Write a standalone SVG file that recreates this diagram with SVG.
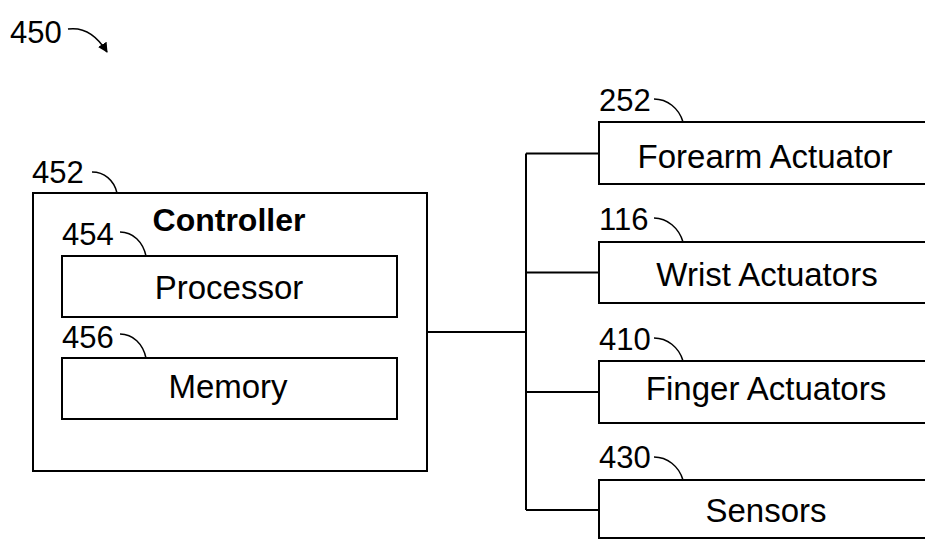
<svg xmlns="http://www.w3.org/2000/svg" width="925" height="540" viewBox="0 0 925 540">
<defs>
<style>
.box{fill:#fff;stroke:#000;stroke-width:2}
.wire{fill:none;stroke:#000;stroke-width:2}
.lead{fill:none;stroke:#000;stroke-width:1.5}
.t{font-family:"Liberation Sans",Arial,sans-serif;font-size:33px;fill:#000;text-anchor:middle}
.n{font-family:"Liberation Sans",Arial,sans-serif;font-size:31px;fill:#000}
.b{font-weight:bold;font-size:32px}
</style>
<marker id="ah" viewBox="0 0 10 10" refX="9" refY="5" markerWidth="10" markerHeight="10" orient="auto" markerUnits="userSpaceOnUse">
<path d="M0,0 L10,5 L0,10 Z" fill="#000"/>
</marker>
</defs>
<rect width="925" height="540" fill="#fff"/>

<g id="ref450">
<text class="n" x="10" y="43">450</text>
<path class="lead" d="M68,29 C82,27 96,34 107,52" marker-end="url(#ah)"/>
</g>

<g id="connectors">
<path class="wire" d="M427,332 H526"/>
<path class="wire" d="M526,153.5 V510"/>
<path class="wire" d="M526,153.5 H599"/>
<path class="wire" d="M526,272.5 H599"/>
<path class="wire" d="M526,392 H599"/>
<path class="wire" d="M526,510 H599"/>
</g>

<g id="controller">
<rect class="box" x="33" y="193" width="394" height="278"/>
<text class="t b" x="229" y="231">Controller</text>
<text class="n" x="32" y="183">452</text>
<path class="lead" d="M92,172 C104,172 114,180 117,193"/>
</g>

<g id="processor">
<rect class="box" x="62" y="256" width="335" height="61"/>
<text class="t" x="229" y="299">Processor</text>
<text class="n" x="62" y="245">454</text>
<path class="lead" d="M120,232 C133,232 143,242 146,256"/>
</g>

<g id="memory">
<rect class="box" x="62" y="358" width="335" height="61"/>
<text class="t" x="228" y="398">Memory</text>
<text class="n" x="62" y="348">456</text>
<path class="lead" d="M120,334 C133,334 143,344 146,358"/>
</g>

<g id="forearm">
<rect class="box" x="599" y="122" width="340" height="62"/>
<text class="t" x="765" y="168">Forearm Actuator</text>
<text class="n" x="599" y="111">252</text>
<path class="lead" d="M654,99 C667,99 679,108 683,122"/>
</g>

<g id="wrist">
<rect class="box" x="599" y="242" width="340" height="61"/>
<text class="t" x="767" y="286">Wrist Actuators</text>
<text class="n" x="599" y="230">116</text>
<path class="lead" d="M654,218 C667,218 679,228 683,242"/>
</g>

<g id="finger">
<rect class="box" x="599" y="361" width="340" height="62"/>
<text class="t" x="766" y="400">Finger Actuators</text>
<text class="n" x="599" y="350">410</text>
<path class="lead" d="M654,338 C667,338 679,347 683,361"/>
</g>

<g id="sensors">
<rect class="box" x="599" y="480" width="340" height="58"/>
<text class="t" x="766" y="522">Sensors</text>
<text class="n" x="599" y="468">430</text>
<path class="lead" d="M654,457 C667,457 679,466 683,480"/>
</g>
</svg>
